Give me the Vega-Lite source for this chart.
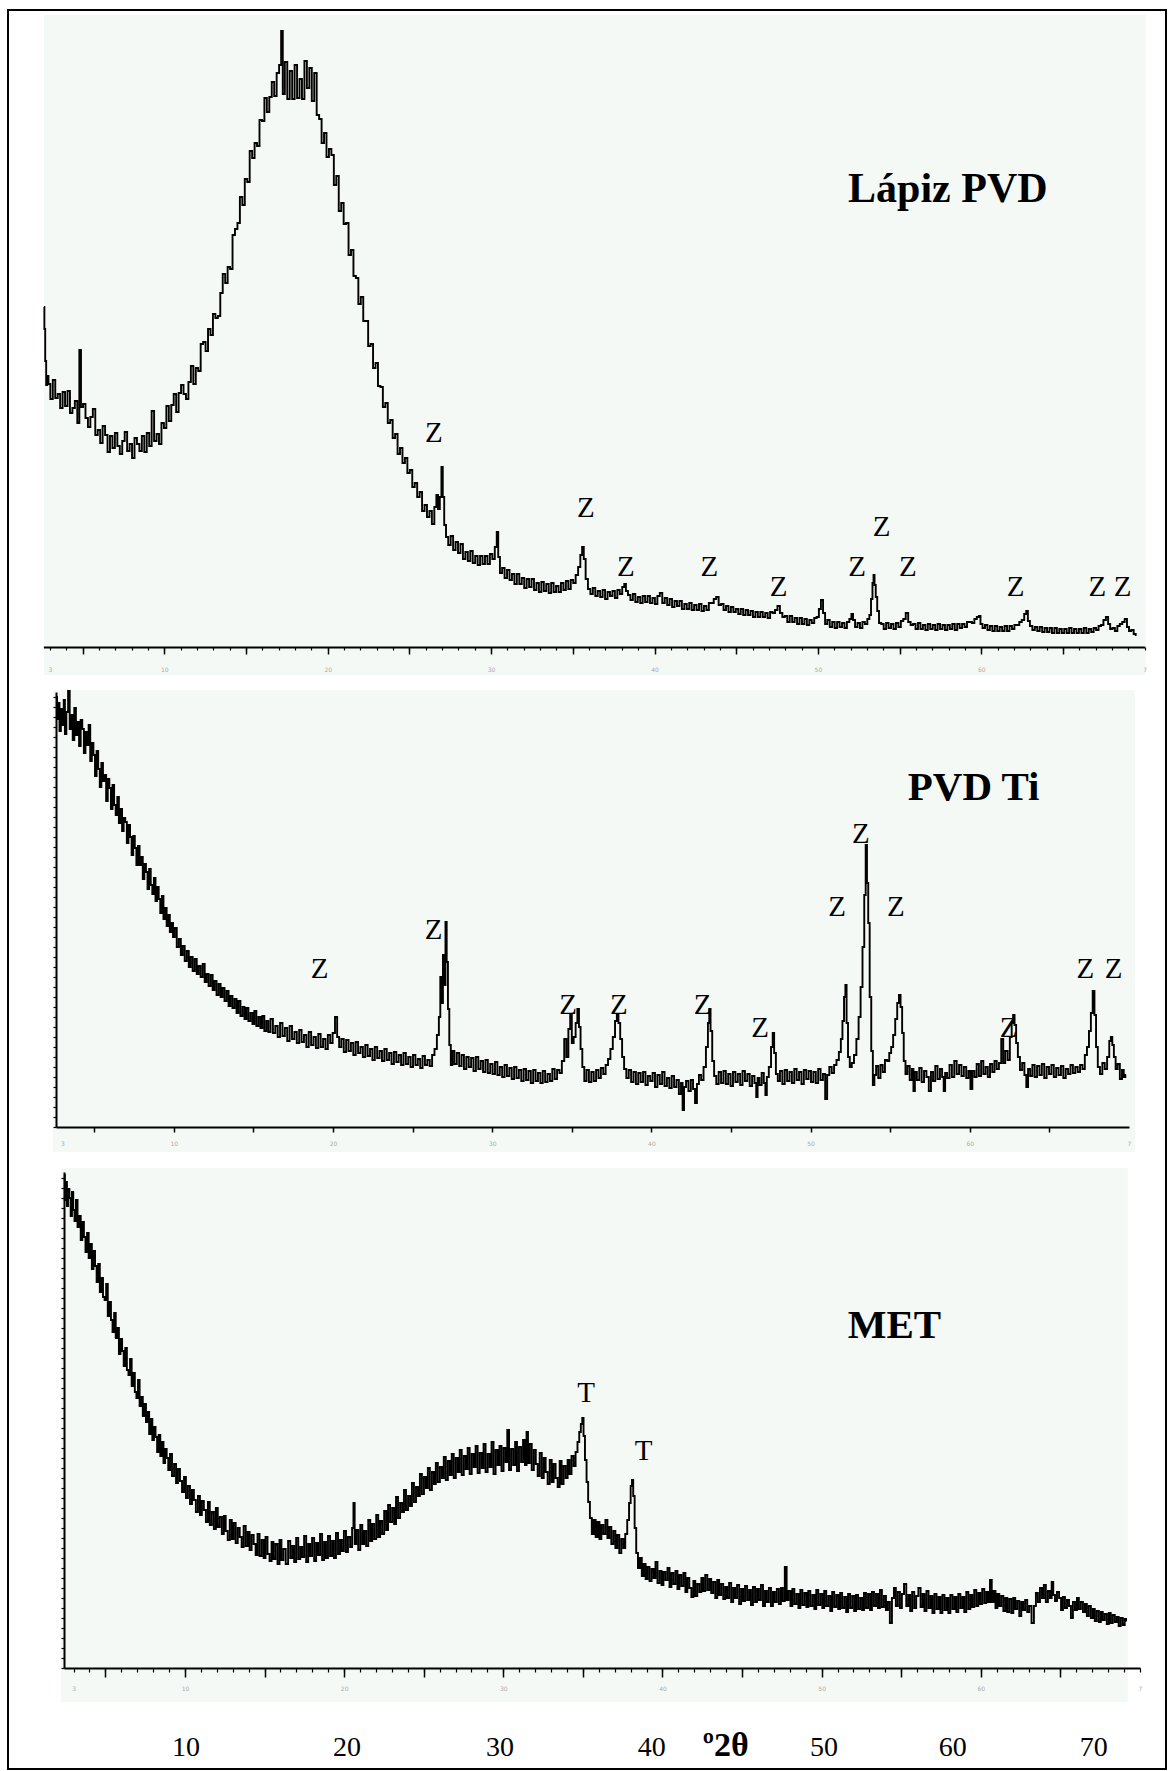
{
"$schema": "https://vega.github.io/schema/vega-lite/v6.json",
"width": 1158, "height": 1759,
"autosize": {"type": "none"},
"padding": {"left": 8, "top": 10, "right": 3, "bottom": 2},
"background": "white",
"config": {"view": {"stroke": "black", "strokeWidth": 2}},
"datasets": {
"lapiz_pvd": [
{"t":2.64,"i":340},{"t":2.68,"i":318},{"t":2.74,"i":286},{"t":2.8,"i":262},{"t":2.87,"i":271},{"t":2.95,"i":263},{"t":3.1,"i":248},{"t":3.25,"i":267},{"t":3.4,"i":249},{"t":3.55,"i":253},{"t":3.7,"i":239},{"t":3.85,"i":255},{"t":4.0,"i":241},{"t":4.15,"i":256},{"t":4.3,"i":234},{"t":4.45,"i":239},{"t":4.6,"i":246},{"t":4.75,"i":224},{"t":4.85,"i":297},{"t":4.95,"i":240},{"t":5.1,"i":243},{"t":5.25,"i":229},{"t":5.4,"i":220},{"t":5.55,"i":230},{"t":5.7,"i":238},{"t":5.85,"i":212},{"t":6.0,"i":217},{"t":6.15,"i":204},{"t":6.3,"i":221},{"t":6.45,"i":212},{"t":6.6,"i":195},{"t":6.75,"i":211},{"t":6.9,"i":199},{"t":7.05,"i":214},{"t":7.2,"i":201},{"t":7.35,"i":193},{"t":7.5,"i":206},{"t":7.65,"i":215},{"t":7.8,"i":196},{"t":7.95,"i":203},{"t":8.1,"i":189},{"t":8.25,"i":209},{"t":8.4,"i":203},{"t":8.55,"i":196},{"t":8.7,"i":211},{"t":8.85,"i":195},{"t":9.0,"i":214},{"t":9.15,"i":201},{"t":9.3,"i":236},{"t":9.45,"i":206},{"t":9.6,"i":213},{"t":9.75,"i":203},{"t":9.9,"i":224},{"t":10.05,"i":219},{"t":10.2,"i":241},{"t":10.35,"i":226},{"t":10.5,"i":242},{"t":10.65,"i":253},{"t":10.8,"i":235},{"t":10.95,"i":254},{"t":11.1,"i":262},{"t":11.25,"i":253},{"t":11.4,"i":248},{"t":11.55,"i":265},{"t":11.7,"i":281},{"t":11.85,"i":263},{"t":12.0,"i":279},{"t":12.15,"i":276},{"t":12.3,"i":303},{"t":12.45,"i":305},{"t":12.6,"i":296},{"t":12.75,"i":318},{"t":12.9,"i":312},{"t":13.05,"i":333},{"t":13.2,"i":329},{"t":13.35,"i":331},{"t":13.5,"i":354},{"t":13.65,"i":373},{"t":13.8,"i":364},{"t":13.95,"i":380},{"t":14.1,"i":378},{"t":14.25,"i":412},{"t":14.4,"i":418},{"t":14.55,"i":424},{"t":14.7,"i":450},{"t":14.85,"i":442},{"t":15.0,"i":468},{"t":15.15,"i":465},{"t":15.3,"i":496},{"t":15.45,"i":489},{"t":15.6,"i":504},{"t":15.75,"i":501},{"t":15.9,"i":527},{"t":16.05,"i":526},{"t":16.2,"i":549},{"t":16.35,"i":535},{"t":16.5,"i":550},{"t":16.65,"i":565},{"t":16.8,"i":551},{"t":16.95,"i":574},{"t":17.1,"i":582},{"t":17.2,"i":616},{"t":17.3,"i":553},{"t":17.45,"i":585},{"t":17.6,"i":548},{"t":17.75,"i":576},{"t":17.9,"i":548},{"t":18.05,"i":582},{"t":18.2,"i":549},{"t":18.35,"i":568},{"t":18.5,"i":548},{"t":18.65,"i":586},{"t":18.8,"i":559},{"t":18.95,"i":579},{"t":19.1,"i":546},{"t":19.25,"i":574},{"t":19.4,"i":532},{"t":19.55,"i":528},{"t":19.7,"i":504},{"t":19.85,"i":514},{"t":20.0,"i":490},{"t":20.15,"i":498},{"t":20.3,"i":492},{"t":20.45,"i":462},{"t":20.6,"i":471},{"t":20.75,"i":436},{"t":20.9,"i":444},{"t":21.05,"i":423},{"t":21.2,"i":424},{"t":21.35,"i":392},{"t":21.5,"i":397},{"t":21.65,"i":371},{"t":21.8,"i":369},{"t":21.95,"i":343},{"t":22.1,"i":350},{"t":22.25,"i":326},{"t":22.4,"i":326},{"t":22.55,"i":301},{"t":22.7,"i":303},{"t":22.85,"i":279},{"t":23.0,"i":284},{"t":23.15,"i":261},{"t":23.3,"i":260},{"t":23.45,"i":240},{"t":23.6,"i":244},{"t":23.75,"i":224},{"t":23.9,"i":227},{"t":24.05,"i":209},{"t":24.2,"i":213},{"t":24.35,"i":193},{"t":24.5,"i":199},{"t":24.65,"i":184},{"t":24.8,"i":189},{"t":24.95,"i":174},{"t":25.1,"i":177},{"t":25.25,"i":160},{"t":25.4,"i":164},{"t":25.55,"i":150},{"t":25.7,"i":155},{"t":25.85,"i":136},{"t":26.0,"i":142},{"t":26.15,"i":130},{"t":26.3,"i":136},{"t":26.45,"i":123},{"t":26.6,"i":140},{"t":26.7,"i":152},{"t":26.8,"i":138},{"t":26.92,"i":150},{"t":27.0,"i":180},{"t":27.08,"i":150},{"t":27.18,"i":122},{"t":27.3,"i":110},{"t":27.45,"i":102},{"t":27.6,"i":111},{"t":27.75,"i":97},{"t":27.9,"i":105},{"t":28.05,"i":94},{"t":28.2,"i":103},{"t":28.35,"i":88},{"t":28.5,"i":95},{"t":28.65,"i":86},{"t":28.8,"i":96},{"t":28.95,"i":84},{"t":29.1,"i":91},{"t":29.25,"i":82},{"t":29.4,"i":91},{"t":29.55,"i":83},{"t":29.7,"i":91},{"t":29.85,"i":83},{"t":30.0,"i":93},{"t":30.15,"i":88},{"t":30.3,"i":100},{"t":30.39,"i":115},{"t":30.48,"i":90},{"t":30.6,"i":74},{"t":30.75,"i":79},{"t":30.9,"i":69},{"t":31.05,"i":77},{"t":31.2,"i":67},{"t":31.35,"i":73},{"t":31.5,"i":63},{"t":31.65,"i":73},{"t":31.8,"i":63},{"t":31.95,"i":69},{"t":32.1,"i":59},{"t":32.25,"i":68},{"t":32.4,"i":60},{"t":32.55,"i":68},{"t":32.7,"i":57},{"t":32.85,"i":64},{"t":33.0,"i":55},{"t":33.15,"i":65},{"t":33.3,"i":56},{"t":33.45,"i":63},{"t":33.6,"i":54},{"t":33.75,"i":64},{"t":33.9,"i":55},{"t":34.05,"i":61},{"t":34.2,"i":55},{"t":34.35,"i":64},{"t":34.5,"i":57},{"t":34.65,"i":66},{"t":34.8,"i":58},{"t":34.95,"i":67},{"t":35.1,"i":64},{"t":35.25,"i":72},{"t":35.4,"i":80},{"t":35.52,"i":92},{"t":35.62,"i":100},{"t":35.72,"i":88},{"t":35.85,"i":68},{"t":36.0,"i":58},{"t":36.15,"i":53},{"t":36.3,"i":59},{"t":36.45,"i":51},{"t":36.6,"i":56},{"t":36.75,"i":50},{"t":36.9,"i":57},{"t":37.05,"i":48},{"t":37.2,"i":55},{"t":37.35,"i":51},{"t":37.5,"i":56},{"t":37.65,"i":49},{"t":37.8,"i":57},{"t":37.95,"i":53},{"t":38.1,"i":60},{"t":38.2,"i":63},{"t":38.3,"i":56},{"t":38.45,"i":52},{"t":38.6,"i":47},{"t":38.75,"i":53},{"t":38.9,"i":45},{"t":39.05,"i":50},{"t":39.2,"i":44},{"t":39.35,"i":51},{"t":39.5,"i":45},{"t":39.65,"i":51},{"t":39.8,"i":44},{"t":39.95,"i":49},{"t":40.1,"i":43},{"t":40.25,"i":51},{"t":40.4,"i":54},{"t":40.55,"i":44},{"t":40.7,"i":49},{"t":40.85,"i":42},{"t":41.0,"i":48},{"t":41.15,"i":40},{"t":41.3,"i":46},{"t":41.45,"i":41},{"t":41.6,"i":46},{"t":41.75,"i":38},{"t":41.9,"i":43},{"t":42.05,"i":38},{"t":42.2,"i":44},{"t":42.35,"i":37},{"t":42.5,"i":42},{"t":42.65,"i":37},{"t":42.8,"i":43},{"t":42.95,"i":36},{"t":43.1,"i":41},{"t":43.25,"i":37},{"t":43.4,"i":44},{"t":43.55,"i":44},{"t":43.7,"i":48},{"t":43.85,"i":50},{"t":44.0,"i":42},{"t":44.15,"i":43},{"t":44.3,"i":37},{"t":44.45,"i":41},{"t":44.6,"i":35},{"t":44.75,"i":40},{"t":44.9,"i":35},{"t":45.05,"i":38},{"t":45.2,"i":33},{"t":45.35,"i":38},{"t":45.5,"i":32},{"t":45.65,"i":37},{"t":45.8,"i":32},{"t":45.95,"i":36},{"t":46.1,"i":30},{"t":46.25,"i":35},{"t":46.4,"i":30},{"t":46.55,"i":35},{"t":46.7,"i":30},{"t":46.85,"i":34},{"t":47.0,"i":29},{"t":47.15,"i":35},{"t":47.3,"i":34},{"t":47.45,"i":37},{"t":47.6,"i":41},{"t":47.75,"i":34},{"t":47.9,"i":30},{"t":48.05,"i":31},{"t":48.2,"i":25},{"t":48.35,"i":31},{"t":48.5,"i":25},{"t":48.65,"i":29},{"t":48.8,"i":23},{"t":48.95,"i":29},{"t":49.1,"i":23},{"t":49.25,"i":28},{"t":49.4,"i":22},{"t":49.55,"i":27},{"t":49.7,"i":24},{"t":49.85,"i":29},{"t":50.0,"i":30},{"t":50.12,"i":38},{"t":50.25,"i":47},{"t":50.38,"i":34},{"t":50.5,"i":23},{"t":50.65,"i":27},{"t":50.8,"i":20},{"t":50.95,"i":25},{"t":51.1,"i":19},{"t":51.25,"i":25},{"t":51.4,"i":20},{"t":51.55,"i":24},{"t":51.7,"i":19},{"t":51.85,"i":25},{"t":52.0,"i":28},{"t":52.1,"i":33},{"t":52.2,"i":27},{"t":52.35,"i":20},{"t":52.5,"i":24},{"t":52.65,"i":19},{"t":52.8,"i":25},{"t":52.95,"i":23},{"t":53.1,"i":28},{"t":53.2,"i":32},{"t":53.3,"i":48},{"t":53.38,"i":64},{"t":53.43,"i":72},{"t":53.5,"i":62},{"t":53.58,"i":50},{"t":53.68,"i":36},{"t":53.8,"i":24},{"t":53.95,"i":23},{"t":54.1,"i":18},{"t":54.25,"i":24},{"t":54.4,"i":19},{"t":54.55,"i":23},{"t":54.7,"i":18},{"t":54.85,"i":24},{"t":55.0,"i":20},{"t":55.15,"i":26},{"t":55.3,"i":28},{"t":55.45,"i":34},{"t":55.6,"i":25},{"t":55.75,"i":22},{"t":55.9,"i":23},{"t":56.05,"i":18},{"t":56.2,"i":24},{"t":56.35,"i":18},{"t":56.5,"i":22},{"t":56.65,"i":17},{"t":56.8,"i":23},{"t":56.95,"i":18},{"t":57.1,"i":22},{"t":57.25,"i":17},{"t":57.4,"i":23},{"t":57.55,"i":18},{"t":57.7,"i":22},{"t":57.85,"i":17},{"t":58.0,"i":22},{"t":58.15,"i":18},{"t":58.3,"i":23},{"t":58.45,"i":17},{"t":58.6,"i":23},{"t":58.75,"i":19},{"t":58.9,"i":23},{"t":59.05,"i":20},{"t":59.2,"i":25},{"t":59.35,"i":25},{"t":59.5,"i":24},{"t":59.65,"i":28},{"t":59.8,"i":30},{"t":59.9,"i":31},{"t":60.0,"i":23},{"t":60.15,"i":19},{"t":60.3,"i":22},{"t":60.45,"i":17},{"t":60.6,"i":21},{"t":60.75,"i":16},{"t":60.9,"i":21},{"t":61.05,"i":16},{"t":61.2,"i":20},{"t":61.35,"i":16},{"t":61.5,"i":21},{"t":61.65,"i":16},{"t":61.8,"i":21},{"t":61.95,"i":18},{"t":62.1,"i":22},{"t":62.25,"i":22},{"t":62.4,"i":25},{"t":62.55,"i":27},{"t":62.7,"i":33},{"t":62.8,"i":36},{"t":62.9,"i":26},{"t":63.05,"i":21},{"t":63.2,"i":17},{"t":63.35,"i":20},{"t":63.5,"i":16},{"t":63.65,"i":20},{"t":63.8,"i":15},{"t":63.95,"i":19},{"t":64.1,"i":15},{"t":64.25,"i":19},{"t":64.4,"i":14},{"t":64.55,"i":19},{"t":64.7,"i":14},{"t":64.85,"i":18},{"t":65.0,"i":14},{"t":65.15,"i":18},{"t":65.3,"i":14},{"t":65.45,"i":19},{"t":65.6,"i":14},{"t":65.75,"i":18},{"t":65.9,"i":14},{"t":66.05,"i":18},{"t":66.2,"i":14},{"t":66.35,"i":19},{"t":66.5,"i":14},{"t":66.65,"i":18},{"t":66.8,"i":15},{"t":66.95,"i":19},{"t":67.1,"i":17},{"t":67.25,"i":21},{"t":67.4,"i":22},{"t":67.55,"i":27},{"t":67.7,"i":30},{"t":67.82,"i":23},{"t":67.95,"i":18},{"t":68.1,"i":19},{"t":68.25,"i":16},{"t":68.4,"i":21},{"t":68.55,"i":23},{"t":68.7,"i":25},{"t":68.85,"i":28},{"t":68.98,"i":20},{"t":69.1,"i":16},{"t":69.25,"i":17},{"t":69.4,"i":13},{"t":69.5,"i":12}
],
"pvd_ti": [
{"t":2.63,"i":430},{"t":2.7,"i":408},{"t":2.78,"i":424},{"t":2.86,"i":396},{"t":2.95,"i":418},{"t":3.05,"i":402},{"t":3.12,"i":427},{"t":3.2,"i":393},{"t":3.3,"i":415},{"t":3.42,"i":436},{"t":3.5,"i":398},{"t":3.6,"i":412},{"t":3.7,"i":387},{"t":3.8,"i":419},{"t":3.9,"i":392},{"t":4.0,"i":405},{"t":4.1,"i":381},{"t":4.2,"i":407},{"t":4.3,"i":398},{"t":4.4,"i":374},{"t":4.5,"i":395},{"t":4.6,"i":382},{"t":4.7,"i":402},{"t":4.8,"i":366},{"t":4.9,"i":384},{"t":5.0,"i":372},{"t":5.1,"i":351},{"t":5.2,"i":376},{"t":5.3,"i":358},{"t":5.4,"i":340},{"t":5.5,"i":364},{"t":5.6,"i":346},{"t":5.7,"i":352},{"t":5.8,"i":326},{"t":5.9,"i":348},{"t":6.0,"i":339},{"t":6.1,"i":318},{"t":6.2,"i":342},{"t":6.3,"i":322},{"t":6.4,"i":312},{"t":6.5,"i":330},{"t":6.6,"i":304},{"t":6.7,"i":318},{"t":6.8,"i":296},{"t":6.9,"i":309},{"t":7.0,"i":305},{"t":7.1,"i":284},{"t":7.2,"i":302},{"t":7.3,"i":290},{"t":7.4,"i":272},{"t":7.5,"i":291},{"t":7.6,"i":279},{"t":7.7,"i":262},{"t":7.8,"i":281},{"t":7.9,"i":262},{"t":8.0,"i":270},{"t":8.1,"i":248},{"t":8.2,"i":263},{"t":8.3,"i":255},{"t":8.4,"i":238},{"t":8.5,"i":258},{"t":8.6,"i":242},{"t":8.7,"i":233},{"t":8.8,"i":249},{"t":8.9,"i":226},{"t":9.0,"i":240},{"t":9.1,"i":228},{"t":9.2,"i":214},{"t":9.3,"i":231},{"t":9.4,"i":208},{"t":9.5,"i":219},{"t":9.6,"i":201},{"t":9.7,"i":212},{"t":9.8,"i":195},{"t":9.9,"i":204},{"t":10.0,"i":190},{"t":10.12,"i":199},{"t":10.25,"i":180},{"t":10.38,"i":188},{"t":10.5,"i":172},{"t":10.62,"i":181},{"t":10.75,"i":166},{"t":10.88,"i":176},{"t":11.0,"i":160},{"t":11.12,"i":170},{"t":11.25,"i":156},{"t":11.38,"i":168},{"t":11.5,"i":153},{"t":11.62,"i":161},{"t":11.75,"i":150},{"t":11.88,"i":163},{"t":12.0,"i":145},{"t":12.12,"i":153},{"t":12.25,"i":141},{"t":12.38,"i":152},{"t":12.5,"i":137},{"t":12.62,"i":146},{"t":12.75,"i":132},{"t":12.88,"i":143},{"t":13.0,"i":130},{"t":13.12,"i":139},{"t":13.25,"i":126},{"t":13.38,"i":136},{"t":13.5,"i":121},{"t":13.62,"i":131},{"t":13.75,"i":119},{"t":13.88,"i":128},{"t":14.0,"i":114},{"t":14.12,"i":126},{"t":14.25,"i":111},{"t":14.38,"i":120},{"t":14.5,"i":108},{"t":14.62,"i":119},{"t":14.75,"i":106},{"t":14.88,"i":114},{"t":15.0,"i":103},{"t":15.12,"i":116},{"t":15.25,"i":101},{"t":15.38,"i":110},{"t":15.5,"i":99},{"t":15.62,"i":111},{"t":15.75,"i":96},{"t":15.88,"i":106},{"t":16.0,"i":95},{"t":16.15,"i":108},{"t":16.3,"i":94},{"t":16.45,"i":101},{"t":16.6,"i":90},{"t":16.75,"i":104},{"t":16.9,"i":91},{"t":17.05,"i":99},{"t":17.2,"i":86},{"t":17.35,"i":101},{"t":17.5,"i":88},{"t":17.65,"i":95},{"t":17.8,"i":84},{"t":17.95,"i":97},{"t":18.1,"i":85},{"t":18.25,"i":92},{"t":18.4,"i":80},{"t":18.55,"i":95},{"t":18.7,"i":82},{"t":18.85,"i":90},{"t":19.0,"i":79},{"t":19.15,"i":93},{"t":19.3,"i":80},{"t":19.45,"i":88},{"t":19.6,"i":78},{"t":19.75,"i":92},{"t":19.9,"i":84},{"t":20.05,"i":94},{"t":20.2,"i":110},{"t":20.32,"i":90},{"t":20.45,"i":80},{"t":20.6,"i":88},{"t":20.75,"i":75},{"t":20.9,"i":87},{"t":21.05,"i":76},{"t":21.2,"i":84},{"t":21.35,"i":72},{"t":21.5,"i":85},{"t":21.65,"i":74},{"t":21.8,"i":80},{"t":21.95,"i":70},{"t":22.1,"i":82},{"t":22.25,"i":71},{"t":22.4,"i":78},{"t":22.55,"i":67},{"t":22.7,"i":80},{"t":22.85,"i":69},{"t":23.0,"i":76},{"t":23.15,"i":66},{"t":23.3,"i":78},{"t":23.45,"i":67},{"t":23.6,"i":74},{"t":23.75,"i":63},{"t":23.9,"i":75},{"t":24.05,"i":65},{"t":24.2,"i":72},{"t":24.35,"i":62},{"t":24.5,"i":74},{"t":24.65,"i":63},{"t":24.8,"i":70},{"t":24.95,"i":60},{"t":25.1,"i":72},{"t":25.25,"i":62},{"t":25.4,"i":68},{"t":25.55,"i":59},{"t":25.7,"i":71},{"t":25.85,"i":62},{"t":26.0,"i":67},{"t":26.15,"i":61},{"t":26.3,"i":72},{"t":26.45,"i":78},{"t":26.6,"i":92},{"t":26.7,"i":110},{"t":26.78,"i":150},{"t":26.86,"i":124},{"t":26.95,"i":172},{"t":27.03,"i":142},{"t":27.1,"i":205},{"t":27.18,"i":165},{"t":27.26,"i":118},{"t":27.35,"i":82},{"t":27.45,"i":62},{"t":27.55,"i":76},{"t":27.7,"i":63},{"t":27.85,"i":74},{"t":28.0,"i":61},{"t":28.15,"i":72},{"t":28.3,"i":58},{"t":28.45,"i":70},{"t":28.6,"i":60},{"t":28.75,"i":69},{"t":28.9,"i":56},{"t":29.05,"i":70},{"t":29.2,"i":58},{"t":29.35,"i":66},{"t":29.5,"i":55},{"t":29.65,"i":67},{"t":29.8,"i":54},{"t":29.95,"i":63},{"t":30.1,"i":53},{"t":30.25,"i":65},{"t":30.4,"i":52},{"t":30.55,"i":60},{"t":30.7,"i":50},{"t":30.85,"i":62},{"t":31.0,"i":51},{"t":31.15,"i":59},{"t":31.3,"i":48},{"t":31.45,"i":60},{"t":31.6,"i":49},{"t":31.75,"i":57},{"t":31.9,"i":46},{"t":32.05,"i":58},{"t":32.2,"i":47},{"t":32.35,"i":56},{"t":32.5,"i":44},{"t":32.65,"i":57},{"t":32.8,"i":46},{"t":32.95,"i":54},{"t":33.1,"i":44},{"t":33.25,"i":56},{"t":33.4,"i":45},{"t":33.55,"i":53},{"t":33.7,"i":46},{"t":33.85,"i":58},{"t":34.0,"i":48},{"t":34.15,"i":57},{"t":34.3,"i":54},{"t":34.45,"i":66},{"t":34.6,"i":88},{"t":34.72,"i":70},{"t":34.85,"i":98},{"t":34.95,"i":112},{"t":35.05,"i":84},{"t":35.18,"i":90},{"t":35.3,"i":104},{"t":35.4,"i":118},{"t":35.5,"i":100},{"t":35.6,"i":78},{"t":35.72,"i":60},{"t":35.85,"i":46},{"t":36.0,"i":57},{"t":36.15,"i":45},{"t":36.3,"i":55},{"t":36.45,"i":46},{"t":36.6,"i":57},{"t":36.75,"i":49},{"t":36.9,"i":59},{"t":37.05,"i":53},{"t":37.2,"i":62},{"t":37.35,"i":68},{"t":37.5,"i":78},{"t":37.65,"i":90},{"t":37.78,"i":106},{"t":37.88,"i":112},{"t":37.98,"i":104},{"t":38.1,"i":88},{"t":38.22,"i":70},{"t":38.35,"i":58},{"t":38.5,"i":49},{"t":38.65,"i":57},{"t":38.8,"i":45},{"t":38.95,"i":55},{"t":39.1,"i":43},{"t":39.25,"i":54},{"t":39.4,"i":45},{"t":39.55,"i":55},{"t":39.7,"i":42},{"t":39.85,"i":51},{"t":40.0,"i":46},{"t":40.15,"i":54},{"t":40.3,"i":40},{"t":40.45,"i":52},{"t":40.6,"i":43},{"t":40.75,"i":55},{"t":40.9,"i":41},{"t":41.05,"i":49},{"t":41.2,"i":39},{"t":41.35,"i":51},{"t":41.5,"i":40},{"t":41.65,"i":47},{"t":41.8,"i":33},{"t":41.92,"i":44},{"t":42.0,"i":17},{"t":42.1,"i":40},{"t":42.25,"i":46},{"t":42.4,"i":36},{"t":42.55,"i":47},{"t":42.68,"i":38},{"t":42.8,"i":24},{"t":42.92,"i":43},{"t":43.05,"i":52},{"t":43.2,"i":47},{"t":43.35,"i":60},{"t":43.5,"i":80},{"t":43.6,"i":104},{"t":43.67,"i":118},{"t":43.76,"i":96},{"t":43.88,"i":66},{"t":44.0,"i":51},{"t":44.15,"i":43},{"t":44.3,"i":55},{"t":44.45,"i":44},{"t":44.6,"i":56},{"t":44.75,"i":43},{"t":44.9,"i":53},{"t":45.05,"i":41},{"t":45.2,"i":55},{"t":45.35,"i":45},{"t":45.5,"i":53},{"t":45.65,"i":42},{"t":45.8,"i":56},{"t":45.95,"i":46},{"t":46.1,"i":53},{"t":46.25,"i":41},{"t":46.4,"i":51},{"t":46.55,"i":44},{"t":46.62,"i":30},{"t":46.72,"i":49},{"t":46.85,"i":42},{"t":47.0,"i":54},{"t":47.12,"i":44},{"t":47.2,"i":32},{"t":47.3,"i":50},{"t":47.45,"i":60},{"t":47.58,"i":80},{"t":47.66,"i":94},{"t":47.76,"i":74},{"t":47.88,"i":53},{"t":48.0,"i":46},{"t":48.15,"i":56},{"t":48.3,"i":43},{"t":48.45,"i":57},{"t":48.6,"i":46},{"t":48.75,"i":55},{"t":48.9,"i":44},{"t":49.05,"i":58},{"t":49.2,"i":47},{"t":49.35,"i":55},{"t":49.5,"i":43},{"t":49.65,"i":57},{"t":49.8,"i":48},{"t":49.95,"i":56},{"t":50.1,"i":45},{"t":50.25,"i":55},{"t":50.4,"i":44},{"t":50.55,"i":58},{"t":50.7,"i":47},{"t":50.85,"i":53},{"t":50.98,"i":28},{"t":51.1,"i":52},{"t":51.25,"i":60},{"t":51.4,"i":54},{"t":51.55,"i":62},{"t":51.7,"i":67},{"t":51.85,"i":75},{"t":51.95,"i":88},{"t":52.05,"i":106},{"t":52.15,"i":130},{"t":52.22,"i":142},{"t":52.3,"i":104},{"t":52.4,"i":70},{"t":52.52,"i":60},{"t":52.65,"i":64},{"t":52.8,"i":72},{"t":52.95,"i":88},{"t":53.08,"i":110},{"t":53.2,"i":140},{"t":53.32,"i":180},{"t":53.42,"i":232},{"t":53.5,"i":282},{"t":53.58,"i":244},{"t":53.66,"i":204},{"t":53.76,"i":130},{"t":53.86,"i":76},{"t":53.96,"i":42},{"t":54.05,"i":52},{"t":54.18,"i":61},{"t":54.32,"i":49},{"t":54.46,"i":62},{"t":54.6,"i":55},{"t":54.74,"i":67},{"t":54.88,"i":66},{"t":55.0,"i":74},{"t":55.12,"i":80},{"t":55.25,"i":92},{"t":55.38,"i":108},{"t":55.5,"i":124},{"t":55.6,"i":132},{"t":55.7,"i":120},{"t":55.8,"i":94},{"t":55.9,"i":66},{"t":56.02,"i":53},{"t":56.15,"i":61},{"t":56.3,"i":47},{"t":56.42,"i":58},{"t":56.5,"i":36},{"t":56.6,"i":55},{"t":56.75,"i":47},{"t":56.9,"i":59},{"t":57.05,"i":45},{"t":57.2,"i":56},{"t":57.35,"i":50},{"t":57.5,"i":36},{"t":57.62,"i":55},{"t":57.76,"i":46},{"t":57.9,"i":61},{"t":58.05,"i":48},{"t":58.2,"i":58},{"t":58.32,"i":50},{"t":58.4,"i":36},{"t":58.5,"i":54},{"t":58.65,"i":49},{"t":58.8,"i":62},{"t":58.95,"i":50},{"t":59.1,"i":66},{"t":59.25,"i":53},{"t":59.4,"i":62},{"t":59.55,"i":51},{"t":59.7,"i":60},{"t":59.85,"i":49},{"t":59.98,"i":56},{"t":60.1,"i":38},{"t":60.22,"i":56},{"t":60.36,"i":50},{"t":60.5,"i":63},{"t":60.64,"i":51},{"t":60.78,"i":66},{"t":60.92,"i":53},{"t":61.06,"i":60},{"t":61.2,"i":50},{"t":61.34,"i":63},{"t":61.48,"i":55},{"t":61.62,"i":66},{"t":61.76,"i":58},{"t":61.9,"i":64},{"t":62.05,"i":88},{"t":62.15,"i":64},{"t":62.3,"i":76},{"t":62.45,"i":67},{"t":62.58,"i":90},{"t":62.68,"i":104},{"t":62.76,"i":112},{"t":62.86,"i":102},{"t":62.96,"i":84},{"t":63.08,"i":70},{"t":63.22,"i":57},{"t":63.36,"i":64},{"t":63.5,"i":52},{"t":63.6,"i":40},{"t":63.72,"i":58},{"t":63.86,"i":51},{"t":64.0,"i":62},{"t":64.15,"i":50},{"t":64.3,"i":61},{"t":64.45,"i":52},{"t":64.6,"i":63},{"t":64.75,"i":49},{"t":64.9,"i":60},{"t":65.05,"i":53},{"t":65.2,"i":62},{"t":65.35,"i":50},{"t":65.5,"i":59},{"t":65.65,"i":52},{"t":65.8,"i":61},{"t":65.95,"i":49},{"t":66.1,"i":58},{"t":66.25,"i":53},{"t":66.4,"i":62},{"t":66.55,"i":54},{"t":66.7,"i":60},{"t":66.85,"i":55},{"t":67.0,"i":62},{"t":67.15,"i":58},{"t":67.3,"i":72},{"t":67.42,"i":80},{"t":67.55,"i":96},{"t":67.66,"i":114},{"t":67.78,"i":136},{"t":67.88,"i":112},{"t":67.98,"i":80},{"t":68.1,"i":60},{"t":68.25,"i":53},{"t":68.4,"i":64},{"t":68.55,"i":58},{"t":68.7,"i":70},{"t":68.82,"i":86},{"t":68.9,"i":90},{"t":69.0,"i":82},{"t":69.1,"i":70},{"t":69.22,"i":58},{"t":69.35,"i":63},{"t":69.5,"i":48},{"t":69.62,"i":57},{"t":69.72,"i":50},{"t":69.82,"i":52}
],
"met": [
{"t":2.42,"i":493},{"t":2.48,"i":468},{"t":2.55,"i":486},{"t":2.62,"i":462},{"t":2.7,"i":479},{"t":2.78,"i":470},{"t":2.86,"i":452},{"t":2.94,"i":476},{"t":3.02,"i":458},{"t":3.1,"i":447},{"t":3.2,"i":468},{"t":3.3,"i":441},{"t":3.4,"i":452},{"t":3.5,"i":428},{"t":3.6,"i":446},{"t":3.7,"i":431},{"t":3.8,"i":416},{"t":3.9,"i":435},{"t":4.0,"i":410},{"t":4.1,"i":424},{"t":4.2,"i":399},{"t":4.3,"i":417},{"t":4.4,"i":402},{"t":4.5,"i":386},{"t":4.6,"i":404},{"t":4.7,"i":376},{"t":4.8,"i":390},{"t":4.9,"i":371},{"t":5.0,"i":368},{"t":5.1,"i":384},{"t":5.2,"i":352},{"t":5.3,"i":366},{"t":5.4,"i":348},{"t":5.5,"i":336},{"t":5.6,"i":355},{"t":5.7,"i":330},{"t":5.8,"i":340},{"t":5.9,"i":314},{"t":6.0,"i":329},{"t":6.1,"i":317},{"t":6.2,"i":302},{"t":6.3,"i":320},{"t":6.4,"i":298},{"t":6.5,"i":293},{"t":6.6,"i":309},{"t":6.7,"i":282},{"t":6.8,"i":295},{"t":6.9,"i":276},{"t":7.0,"i":270},{"t":7.1,"i":288},{"t":7.2,"i":262},{"t":7.3,"i":271},{"t":7.4,"i":252},{"t":7.5,"i":264},{"t":7.6,"i":246},{"t":7.7,"i":256},{"t":7.8,"i":234},{"t":7.9,"i":249},{"t":8.0,"i":228},{"t":8.1,"i":241},{"t":8.2,"i":231},{"t":8.3,"i":216},{"t":8.4,"i":233},{"t":8.5,"i":212},{"t":8.6,"i":226},{"t":8.7,"i":205},{"t":8.8,"i":219},{"t":8.9,"i":210},{"t":9.0,"i":198},{"t":9.12,"i":214},{"t":9.25,"i":192},{"t":9.38,"i":204},{"t":9.5,"i":185},{"t":9.62,"i":199},{"t":9.75,"i":187},{"t":9.88,"i":176},{"t":10.0,"i":191},{"t":10.12,"i":170},{"t":10.25,"i":182},{"t":10.38,"i":164},{"t":10.5,"i":178},{"t":10.62,"i":168},{"t":10.75,"i":156},{"t":10.88,"i":172},{"t":11.0,"i":153},{"t":11.12,"i":167},{"t":11.25,"i":158},{"t":11.38,"i":146},{"t":11.5,"i":166},{"t":11.62,"i":143},{"t":11.75,"i":156},{"t":11.88,"i":139},{"t":12.0,"i":160},{"t":12.12,"i":141},{"t":12.25,"i":151},{"t":12.38,"i":134},{"t":12.5,"i":152},{"t":12.62,"i":137},{"t":12.75,"i":128},{"t":12.88,"i":148},{"t":13.0,"i":129},{"t":13.12,"i":145},{"t":13.25,"i":125},{"t":13.38,"i":140},{"t":13.5,"i":131},{"t":13.62,"i":121},{"t":13.75,"i":142},{"t":13.88,"i":122},{"t":14.0,"i":136},{"t":14.12,"i":118},{"t":14.25,"i":133},{"t":14.38,"i":124},{"t":14.5,"i":113},{"t":14.62,"i":134},{"t":14.75,"i":112},{"t":14.88,"i":128},{"t":15.0,"i":110},{"t":15.12,"i":131},{"t":15.25,"i":114},{"t":15.38,"i":107},{"t":15.5,"i":126},{"t":15.62,"i":109},{"t":15.75,"i":124},{"t":15.88,"i":104},{"t":16.0,"i":128},{"t":16.12,"i":108},{"t":16.25,"i":119},{"t":16.41,"i":104},{"t":16.55,"i":127},{"t":16.68,"i":110},{"t":16.8,"i":122},{"t":16.92,"i":106},{"t":17.05,"i":130},{"t":17.18,"i":109},{"t":17.3,"i":121},{"t":17.42,"i":111},{"t":17.55,"i":132},{"t":17.68,"i":106},{"t":17.8,"i":124},{"t":17.92,"i":112},{"t":18.05,"i":130},{"t":18.18,"i":107},{"t":18.3,"i":125},{"t":18.42,"i":113},{"t":18.55,"i":134},{"t":18.68,"i":108},{"t":18.8,"i":126},{"t":18.92,"i":110},{"t":19.05,"i":132},{"t":19.18,"i":112},{"t":19.3,"i":127},{"t":19.42,"i":110},{"t":19.55,"i":135},{"t":19.68,"i":114},{"t":19.8,"i":128},{"t":19.92,"i":117},{"t":20.05,"i":137},{"t":20.18,"i":116},{"t":20.3,"i":131},{"t":20.45,"i":121},{"t":20.55,"i":140},{"t":20.62,"i":165},{"t":20.7,"i":124},{"t":20.82,"i":138},{"t":20.95,"i":118},{"t":21.08,"i":143},{"t":21.2,"i":124},{"t":21.32,"i":137},{"t":21.45,"i":122},{"t":21.58,"i":148},{"t":21.7,"i":127},{"t":21.82,"i":144},{"t":21.95,"i":129},{"t":22.08,"i":153},{"t":22.2,"i":131},{"t":22.32,"i":147},{"t":22.45,"i":134},{"t":22.58,"i":157},{"t":22.7,"i":138},{"t":22.82,"i":163},{"t":22.95,"i":146},{"t":23.08,"i":160},{"t":23.2,"i":144},{"t":23.32,"i":171},{"t":23.45,"i":150},{"t":23.58,"i":165},{"t":23.7,"i":156},{"t":23.82,"i":178},{"t":23.95,"i":158},{"t":24.08,"i":172},{"t":24.2,"i":162},{"t":24.32,"i":185},{"t":24.45,"i":166},{"t":24.58,"i":181},{"t":24.7,"i":172},{"t":24.82,"i":194},{"t":24.95,"i":174},{"t":25.08,"i":191},{"t":25.2,"i":180},{"t":25.32,"i":200},{"t":25.45,"i":178},{"t":25.58,"i":196},{"t":25.7,"i":184},{"t":25.82,"i":205},{"t":25.95,"i":186},{"t":26.08,"i":201},{"t":26.2,"i":190},{"t":26.32,"i":211},{"t":26.45,"i":188},{"t":26.58,"i":207},{"t":26.7,"i":193},{"t":26.82,"i":214},{"t":26.95,"i":190},{"t":27.08,"i":210},{"t":27.2,"i":196},{"t":27.32,"i":218},{"t":27.45,"i":193},{"t":27.58,"i":212},{"t":27.7,"i":199},{"t":27.82,"i":220},{"t":27.95,"i":194},{"t":28.08,"i":214},{"t":28.2,"i":201},{"t":28.32,"i":222},{"t":28.45,"i":195},{"t":28.58,"i":215},{"t":28.7,"i":200},{"t":28.82,"i":224},{"t":28.95,"i":196},{"t":29.08,"i":214},{"t":29.2,"i":201},{"t":29.32,"i":226},{"t":29.45,"i":194},{"t":29.58,"i":218},{"t":29.7,"i":203},{"t":29.82,"i":222},{"t":29.95,"i":197},{"t":30.08,"i":220},{"t":30.2,"i":206},{"t":30.3,"i":238},{"t":30.42,"i":198},{"t":30.55,"i":219},{"t":30.68,"i":203},{"t":30.8,"i":226},{"t":30.92,"i":197},{"t":31.05,"i":221},{"t":31.18,"i":206},{"t":31.3,"i":228},{"t":31.42,"i":203},{"t":31.5,"i":236},{"t":31.6,"i":205},{"t":31.72,"i":224},{"t":31.85,"i":198},{"t":31.98,"i":218},{"t":32.1,"i":204},{"t":32.22,"i":192},{"t":32.35,"i":215},{"t":32.48,"i":190},{"t":32.6,"i":210},{"t":32.72,"i":196},{"t":32.85,"i":184},{"t":32.98,"i":208},{"t":33.1,"i":186},{"t":33.22,"i":204},{"t":33.35,"i":190},{"t":33.48,"i":181},{"t":33.6,"i":207},{"t":33.72,"i":184},{"t":33.85,"i":202},{"t":33.98,"i":190},{"t":34.1,"i":208},{"t":34.22,"i":194},{"t":34.35,"i":212},{"t":34.48,"i":202},{"t":34.6,"i":216},{"t":34.72,"i":226},{"t":34.82,"i":236},{"t":34.92,"i":244},{"t":35.0,"i":250},{"t":35.08,"i":232},{"t":35.18,"i":208},{"t":35.28,"i":186},{"t":35.38,"i":166},{"t":35.5,"i":150},{"t":35.62,"i":134},{"t":35.74,"i":148},{"t":35.86,"i":131},{"t":35.98,"i":146},{"t":36.1,"i":129},{"t":36.22,"i":143},{"t":36.35,"i":134},{"t":36.48,"i":148},{"t":36.6,"i":130},{"t":36.72,"i":141},{"t":36.85,"i":124},{"t":36.98,"i":137},{"t":37.1,"i":120},{"t":37.22,"i":133},{"t":37.35,"i":115},{"t":37.48,"i":129},{"t":37.6,"i":120},{"t":37.72,"i":134},{"t":37.85,"i":148},{"t":37.95,"i":165},{"t":38.05,"i":182},{"t":38.12,"i":188},{"t":38.2,"i":172},{"t":38.3,"i":140},{"t":38.4,"i":115},{"t":38.52,"i":100},{"t":38.64,"i":110},{"t":38.76,"i":92},{"t":38.88,"i":104},{"t":39.0,"i":89},{"t":39.12,"i":101},{"t":39.25,"i":87},{"t":39.38,"i":99},{"t":39.5,"i":90},{"t":39.62,"i":106},{"t":39.75,"i":85},{"t":39.88,"i":97},{"t":40.0,"i":83},{"t":40.12,"i":96},{"t":40.25,"i":88},{"t":40.38,"i":100},{"t":40.5,"i":81},{"t":40.62,"i":95},{"t":40.75,"i":84},{"t":40.88,"i":97},{"t":41.0,"i":79},{"t":41.12,"i":93},{"t":41.25,"i":82},{"t":41.38,"i":95},{"t":41.5,"i":76},{"t":41.62,"i":90},{"t":41.75,"i":80},{"t":41.88,"i":71},{"t":42.0,"i":87},{"t":42.12,"i":72},{"t":42.25,"i":84},{"t":42.38,"i":76},{"t":42.5,"i":90},{"t":42.62,"i":77},{"t":42.75,"i":93},{"t":42.88,"i":78},{"t":43.0,"i":89},{"t":43.12,"i":75},{"t":43.25,"i":86},{"t":43.38,"i":70},{"t":43.5,"i":88},{"t":43.62,"i":73},{"t":43.75,"i":84},{"t":43.88,"i":69},{"t":44.0,"i":81},{"t":44.12,"i":70},{"t":44.25,"i":85},{"t":44.38,"i":66},{"t":44.5,"i":80},{"t":44.62,"i":70},{"t":44.75,"i":83},{"t":44.88,"i":64},{"t":45.0,"i":79},{"t":45.12,"i":67},{"t":45.25,"i":82},{"t":45.38,"i":68},{"t":45.5,"i":78},{"t":45.62,"i":63},{"t":45.75,"i":81},{"t":45.88,"i":66},{"t":46.0,"i":79},{"t":46.12,"i":68},{"t":46.25,"i":83},{"t":46.38,"i":62},{"t":46.5,"i":77},{"t":46.62,"i":66},{"t":46.75,"i":80},{"t":46.88,"i":62},{"t":47.0,"i":76},{"t":47.12,"i":66},{"t":47.25,"i":79},{"t":47.38,"i":64},{"t":47.5,"i":80},{"t":47.62,"i":67},{"t":47.75,"i":101},{"t":47.85,"i":68},{"t":47.98,"i":77},{"t":48.1,"i":62},{"t":48.22,"i":79},{"t":48.35,"i":64},{"t":48.48,"i":74},{"t":48.6,"i":60},{"t":48.72,"i":78},{"t":48.85,"i":63},{"t":48.98,"i":75},{"t":49.1,"i":61},{"t":49.22,"i":77},{"t":49.35,"i":62},{"t":49.48,"i":73},{"t":49.6,"i":59},{"t":49.72,"i":78},{"t":49.85,"i":63},{"t":49.98,"i":74},{"t":50.1,"i":60},{"t":50.22,"i":77},{"t":50.35,"i":62},{"t":50.48,"i":72},{"t":50.6,"i":57},{"t":50.72,"i":76},{"t":50.85,"i":61},{"t":50.98,"i":73},{"t":51.1,"i":59},{"t":51.22,"i":75},{"t":51.35,"i":60},{"t":51.48,"i":71},{"t":51.6,"i":56},{"t":51.72,"i":74},{"t":51.85,"i":60},{"t":51.98,"i":72},{"t":52.1,"i":57},{"t":52.22,"i":73},{"t":52.35,"i":59},{"t":52.48,"i":70},{"t":52.6,"i":58},{"t":52.72,"i":75},{"t":52.85,"i":60},{"t":52.98,"i":74},{"t":53.1,"i":58},{"t":53.22,"i":76},{"t":53.35,"i":62},{"t":53.48,"i":74},{"t":53.6,"i":60},{"t":53.72,"i":78},{"t":53.85,"i":61},{"t":53.98,"i":72},{"t":54.1,"i":58},{"t":54.22,"i":66},{"t":54.35,"i":45},{"t":54.48,"i":70},{"t":54.6,"i":80},{"t":54.72,"i":62},{"t":54.85,"i":76},{"t":54.98,"i":60},{"t":55.1,"i":74},{"t":55.25,"i":84},{"t":55.38,"i":62},{"t":55.5,"i":73},{"t":55.62,"i":57},{"t":55.75,"i":76},{"t":55.88,"i":60},{"t":56.0,"i":72},{"t":56.15,"i":80},{"t":56.28,"i":61},{"t":56.4,"i":74},{"t":56.52,"i":57},{"t":56.65,"i":77},{"t":56.78,"i":60},{"t":56.9,"i":72},{"t":57.02,"i":55},{"t":57.15,"i":74},{"t":57.28,"i":59},{"t":57.4,"i":71},{"t":57.52,"i":55},{"t":57.65,"i":73},{"t":57.78,"i":58},{"t":57.9,"i":70},{"t":58.02,"i":55},{"t":58.15,"i":73},{"t":58.28,"i":59},{"t":58.4,"i":71},{"t":58.52,"i":56},{"t":58.65,"i":74},{"t":58.78,"i":60},{"t":58.9,"i":71},{"t":59.02,"i":56},{"t":59.15,"i":76},{"t":59.28,"i":59},{"t":59.4,"i":73},{"t":59.52,"i":61},{"t":59.65,"i":78},{"t":59.78,"i":62},{"t":59.9,"i":75},{"t":60.02,"i":64},{"t":60.15,"i":79},{"t":60.28,"i":65},{"t":60.4,"i":76},{"t":60.52,"i":66},{"t":60.63,"i":88},{"t":60.74,"i":66},{"t":60.86,"i":77},{"t":60.98,"i":60},{"t":61.1,"i":74},{"t":61.22,"i":62},{"t":61.35,"i":72},{"t":61.48,"i":57},{"t":61.6,"i":70},{"t":61.72,"i":56},{"t":61.85,"i":69},{"t":61.98,"i":55},{"t":62.1,"i":70},{"t":62.22,"i":59},{"t":62.35,"i":67},{"t":62.48,"i":52},{"t":62.6,"i":66},{"t":62.72,"i":58},{"t":62.85,"i":68},{"t":62.98,"i":56},{"t":63.1,"i":62},{"t":63.27,"i":45},{"t":63.4,"i":62},{"t":63.52,"i":75},{"t":63.65,"i":66},{"t":63.78,"i":80},{"t":63.9,"i":70},{"t":64.02,"i":83},{"t":64.15,"i":66},{"t":64.28,"i":77},{"t":64.4,"i":70},{"t":64.5,"i":86},{"t":64.6,"i":73},{"t":64.72,"i":67},{"t":64.85,"i":76},{"t":64.98,"i":70},{"t":65.1,"i":58},{"t":65.22,"i":71},{"t":65.35,"i":60},{"t":65.48,"i":68},{"t":65.6,"i":62},{"t":65.72,"i":50},{"t":65.85,"i":66},{"t":65.98,"i":58},{"t":66.1,"i":70},{"t":66.22,"i":59},{"t":66.35,"i":66},{"t":66.48,"i":56},{"t":66.6,"i":64},{"t":66.72,"i":52},{"t":66.85,"i":62},{"t":66.98,"i":50},{"t":67.1,"i":59},{"t":67.22,"i":47},{"t":67.35,"i":57},{"t":67.48,"i":46},{"t":67.6,"i":56},{"t":67.72,"i":48},{"t":67.85,"i":54},{"t":67.98,"i":44},{"t":68.1,"i":55},{"t":68.22,"i":45},{"t":68.35,"i":53},{"t":68.48,"i":46},{"t":68.6,"i":51},{"t":68.72,"i":42},{"t":68.85,"i":50},{"t":68.98,"i":43},{"t":69.1,"i":49},{"t":69.15,"i":47}
],
"z_lapiz": [
{"t":26.5,"i":214,"fase":"Z"},{"t":35.8,"i":139,"fase":"Z"},{"t":38.25,"i":80,"fase":"Z"},{"t":43.35,"i":80,"fase":"Z"},{"t":47.6,"i":60,"fase":"Z"},{"t":52.4,"i":80,"fase":"Z"},{"t":53.9,"i":120,"fase":"Z"},{"t":55.5,"i":80,"fase":"Z"},{"t":62.1,"i":60,"fase":"Z"},{"t":67.1,"i":60,"fase":"Z"},{"t":68.65,"i":60,"fase":"Z"}
],
"z_ti": [
{"t":19.16,"i":158,"fase":"Z"},{"t":26.32,"i":197,"fase":"Z"},{"t":34.77,"i":122,"fase":"Z"},{"t":37.96,"i":122,"fase":"Z"},{"t":43.21,"i":122,"fase":"Z"},{"t":46.83,"i":99,"fase":"Z"},{"t":51.66,"i":220,"fase":"Z"},{"t":53.15,"i":293,"fase":"Z"},{"t":55.35,"i":220,"fase":"Z"},{"t":62.44,"i":99,"fase":"Z"},{"t":67.26,"i":158,"fase":"Z"},{"t":69.04,"i":158,"fase":"Z"}
],
"t_met": [
{"t":35.2,"i":275,"fase":"T"},{"t":38.82,"i":217,"fase":"T"}
],
"eje": [
{"lab":"10","t":10.06},{"lab":"20","t":20.18},{"lab":"30","t":29.79},{"lab":"40","t":39.33},{"lab":"50","t":50.14},{"lab":"60","t":58.24},{"lab":"70","t":67.1}
]
},
"resolve": {"scale": {"x": "independent", "y": "independent"}, "axis": {"x": "independent", "y": "independent"}},
"layer": [
{
"data": {"values": [{}]},
"mark": {"type": "rect", "fill": "#f5f9f5"},
"encoding": {
"x": {"datum": 2.64, "type": "quantitative", "scale": {"domain": [2.6, 70], "range": [35.4, 1136.7], "nice": false, "zero": false},
 "axis": {"orient": "bottom", "offset": -1122, "values": [5,10,15,20,25,30,35,40,45,50,55,60,65], "tickSize": 7, "tickWidth": 1.5, "tickColor": "black", "domain": false, "labels": false, "title": null, "grid": false, "zindex": 1}},
"x2": {"datum": 70.07},
"y": {"datum": -28, "type": "quantitative", "scale": {"domain": [0, 632], "range": [637, 5], "nice": false, "zero": false}, "axis": null},
"y2": {"datum": 632}
}
},
{
"data": {"values": [{}]},
"mark": {"type": "rect", "fill": "#f5f9f5"},
"encoding": {
"x": {"datum": 2.41, "type": "quantitative", "scale": {"domain": [2.6, 70], "range": [48, 1121], "nice": false, "zero": false},
 "axis": {"orient": "bottom", "offset": -642, "values": [5,10,15,20,25,30,35,40,45,50,55,60,65], "tickSize": 5, "tickWidth": 1.5, "tickColor": "black", "domain": false, "labels": false, "title": null, "grid": false, "zindex": 1}},
"x2": {"datum": 70.38},
"y": {"datum": -25, "type": "quantitative", "scale": {"domain": [0, 435], "range": [1117, 682], "nice": false, "zero": false}, "axis": null},
"y2": {"datum": 437}
}
},
{
"data": {"values": [{}]},
"mark": {"type": "rect", "fill": "#f5f9f5"},
"encoding": {
"x": {"datum": 2.21, "type": "quantitative", "scale": {"domain": [2.4, 70], "range": [56, 1132], "nice": false, "zero": false},
 "axis": {"orient": "bottom", "offset": -101, "values": [5,10,15,20,25,30,35,40,45,50,55,60,65], "tickSize": 9, "tickWidth": 1.5, "tickColor": "black", "domain": false, "labels": false, "title": null, "grid": false, "zindex": 1}},
"x2": {"datum": 69.23},
"y": {"datum": -34, "type": "quantitative", "scale": {"domain": [0, 496], "range": [1658, 1162], "nice": false, "zero": false}, "axis": null},
"y2": {"datum": 500}
}
},
{
"data": {"name": "lapiz_pvd"},
"mark": {"type": "line", "color": "black", "strokeWidth": 1.9, "interpolate": "step", "strokeJoin": "miter"},
"encoding": {
"x": {"field": "t", "type": "quantitative", "scale": {"domain": [2.6, 70], "range": [35.4, 1136.7], "nice": false, "zero": false},
 "axis": {"orient": "bottom", "offset": -1122, "tickCount": 68, "tickSize": 3, "tickWidth": 1.2, "tickColor": "black", "domain": true, "domainColor": "black", "domainWidth": 2, "labels": true, "labelExpr": "datum.value == 3 ? '3' : datum.value == 70 ? '7' : datum.value % 10 == 0 ? datum.label : ''", "labelFont": "DejaVu Sans", "labelFontSize": 6, "labelColor": "#aaaaaa", "labelBaseline": "middle", "labelPadding": 19, "labelOverlap": false, "labelFlush": false, "labelBound": false, "title": null, "grid": false, "zindex": 1}},
"y": {"field": "i", "type": "quantitative", "scale": {"domain": [0, 632], "range": [637, 5], "nice": false, "zero": false}, "axis": null}
}
},
{
"data": {"name": "z_lapiz"},
"mark": {"type": "text", "font": "Liberation Serif", "fontSize": 29, "color": "black", "align": "center", "baseline": "middle"},
"encoding": {
"x": {"field": "t", "type": "quantitative", "scale": {"domain": [2.6, 70], "range": [35.4, 1136.7], "nice": false, "zero": false}, "axis": null},
"y": {"field": "i", "type": "quantitative", "scale": {"domain": [0, 632], "range": [637, 5], "nice": false, "zero": false}, "axis": null},
"text": {"field": "fase"}
}
},
{
"data": {"values": [{"muestra": "Lápiz PVD"}]},
"mark": {"type": "text", "font": "Liberation Serif", "fontSize": 42, "fontWeight": "bold", "color": "black", "align": "center", "baseline": "alphabetic"},
"encoding": {
"x": {"datum": 57.95, "type": "quantitative", "scale": {"domain": [2.6, 70], "range": [35.4, 1136.7], "nice": false, "zero": false}, "axis": null},
"y": {"datum": 445, "type": "quantitative", "scale": {"domain": [0, 632], "range": [637, 5], "nice": false, "zero": false}, "axis": null},
"text": {"field": "muestra"}
}
},
{
"data": {"name": "pvd_ti"},
"mark": {"type": "line", "color": "black", "strokeWidth": 1.9, "interpolate": "step", "strokeJoin": "miter"},
"encoding": {
"x": {"field": "t", "type": "quantitative", "scale": {"domain": [2.6, 70], "range": [48, 1121], "nice": false, "zero": false},
 "axis": {"orient": "bottom", "offset": -642, "values": [3,10,20,30,40,50,60,70], "ticks": false, "domain": true, "domainColor": "black", "domainWidth": 2, "labels": true, "labelExpr": "datum.value == 70 ? '7' : datum.label", "labelFont": "DejaVu Sans", "labelFontSize": 6, "labelColor": "#aaaaaa", "labelBaseline": "middle", "labelPadding": 16, "labelOverlap": false, "labelFlush": false, "labelBound": false, "title": null, "grid": false, "zindex": 1}},
"y": {"field": "i", "type": "quantitative", "scale": {"domain": [0, 435], "range": [1117, 682], "nice": false, "zero": false},
 "axis": {"orient": "left", "offset": -48, "tickCount": 44, "tickSize": 3, "tickWidth": 1.2, "tickColor": "black", "domain": true, "domainColor": "black", "domainWidth": 2, "labels": false, "title": null, "grid": false, "zindex": 1}}
}
},
{
"data": {"name": "z_ti"},
"mark": {"type": "text", "font": "Liberation Serif", "fontSize": 29, "color": "black", "align": "center", "baseline": "middle"},
"encoding": {
"x": {"field": "t", "type": "quantitative", "scale": {"domain": [2.6, 70], "range": [48, 1121], "nice": false, "zero": false}, "axis": null},
"y": {"field": "i", "type": "quantitative", "scale": {"domain": [0, 435], "range": [1117, 682], "nice": false, "zero": false}, "axis": null},
"text": {"field": "fase"}
}
},
{
"data": {"values": [{"muestra": "PVD Ti"}]},
"mark": {"type": "text", "font": "Liberation Serif", "fontSize": 41, "fontWeight": "bold", "color": "black", "align": "center", "baseline": "alphabetic"},
"encoding": {
"x": {"datum": 60.24, "type": "quantitative", "scale": {"domain": [2.6, 70], "range": [48, 1121], "nice": false, "zero": false}, "axis": null},
"y": {"datum": 327, "type": "quantitative", "scale": {"domain": [0, 435], "range": [1117, 682], "nice": false, "zero": false}, "axis": null},
"text": {"field": "muestra"}
}
},
{
"data": {"name": "met"},
"mark": {"type": "line", "color": "black", "strokeWidth": 1.9, "interpolate": "step", "strokeJoin": "miter"},
"encoding": {
"x": {"field": "t", "type": "quantitative", "scale": {"domain": [2.4, 70], "range": [56, 1132], "nice": false, "zero": false},
 "axis": {"orient": "bottom", "offset": -101, "tickCount": 68, "tickSize": 4, "tickWidth": 1.2, "tickColor": "black", "domain": true, "domainColor": "black", "domainWidth": 2, "labels": true, "labelExpr": "datum.value == 3 ? '3' : datum.value == 70 ? '7' : datum.value % 10 == 0 ? datum.label : ''", "labelFont": "DejaVu Sans", "labelFontSize": 6, "labelColor": "#aaaaaa", "labelBaseline": "middle", "labelPadding": 16, "labelOverlap": false, "labelFlush": false, "labelBound": false, "title": null, "grid": false, "zindex": 1}},
"y": {"field": "i", "type": "quantitative", "scale": {"domain": [0, 496], "range": [1658, 1162], "nice": false, "zero": false},
 "axis": {"orient": "left", "offset": -56, "tickCount": 50, "tickSize": 3, "tickWidth": 1.2, "tickColor": "black", "domain": true, "domainColor": "black", "domainWidth": 2, "labels": false, "title": null, "grid": false, "zindex": 1}}
}
},
{
"data": {"name": "t_met"},
"mark": {"type": "text", "font": "Liberation Serif", "fontSize": 29, "color": "black", "align": "center", "baseline": "middle"},
"encoding": {
"x": {"field": "t", "type": "quantitative", "scale": {"domain": [2.4, 70], "range": [56, 1132], "nice": false, "zero": false}, "axis": null},
"y": {"field": "i", "type": "quantitative", "scale": {"domain": [0, 496], "range": [1658, 1162], "nice": false, "zero": false}, "axis": null},
"text": {"field": "fase"}
}
},
{
"data": {"values": [{"muestra": "MET"}]},
"mark": {"type": "text", "font": "Liberation Serif", "fontSize": 41, "fontWeight": "bold", "color": "black", "align": "center", "baseline": "alphabetic"},
"encoding": {
"x": {"datum": 54.57, "type": "quantitative", "scale": {"domain": [2.4, 70], "range": [56, 1132], "nice": false, "zero": false}, "axis": null},
"y": {"datum": 330, "type": "quantitative", "scale": {"domain": [0, 496], "range": [1658, 1162], "nice": false, "zero": false}, "axis": null},
"text": {"field": "muestra"}
}
},
{
"data": {"name": "eje"},
"mark": {"type": "text", "font": "Liberation Serif", "fontSize": 28, "color": "black", "align": "center", "baseline": "alphabetic"},
"encoding": {
"x": {"field": "t", "type": "quantitative", "scale": {"domain": [2.4, 70], "range": [56, 1132], "nice": false, "zero": false}, "axis": null},
"y": {"datum": -88, "type": "quantitative", "scale": {"domain": [0, 496], "range": [1658, 1162], "nice": false, "zero": false}, "axis": null},
"text": {"field": "lab"}
}
},
{
"data": {"values": [{"titulo": "º2θ"}]},
"mark": {"type": "text", "font": "Liberation Serif", "fontSize": 34, "fontWeight": "bold", "color": "black", "align": "center", "baseline": "alphabetic"},
"encoding": {
"x": {"datum": 43.98, "type": "quantitative", "scale": {"domain": [2.4, 70], "range": [56, 1132], "nice": false, "zero": false}, "axis": null},
"y": {"datum": -88, "type": "quantitative", "scale": {"domain": [0, 496], "range": [1658, 1162], "nice": false, "zero": false}, "axis": null},
"text": {"field": "titulo"}
}
}
]
}
